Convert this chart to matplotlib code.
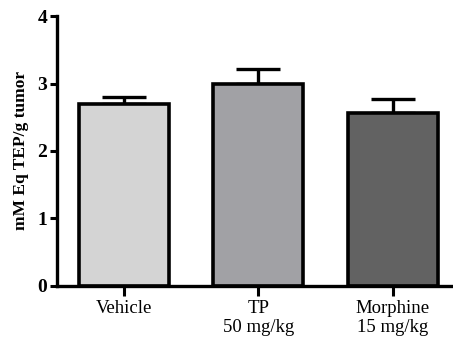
"""
TEP content in tumour tissue by treatment group, bar chart with SEM.
"""

import matplotlib
matplotlib.use("Agg")
import matplotlib.pyplot as plt

# --- data ---
groups = ["Vehicle", "TP\n50 mg/kg", "Morphine\n15 mg/kg"]
means = [2.70, 3.00, 2.56]
sem = [0.10, 0.22, 0.21]
y_ticks = [0, 1, 2, 3, 4]

# --- colours ---
FILLS = ["#d4d4d4", "#a1a1a5", "#626262"]
BLACK = "#000000"

plt.rcParams["font.family"] = ["Liberation Serif", "DejaVu Serif"]

fig = plt.figure(figsize=(4.53, 3.42), dpi=100)
ax = fig.add_axes([0.126, 0.164, 0.874, 0.789])

x = range(len(groups))
ax.bar(x, means, width=0.67, color=FILLS, edgecolor=BLACK, linewidth=2.6,
       zorder=2)
ax.errorbar(x, means, yerr=[[0] * len(sem), sem], fmt="none", ecolor=BLACK,
            elinewidth=2.4, capsize=16, capthick=2.4, zorder=1)

ax.set_xlim(-0.498, 2.45)
ax.set_ylim(0, 4)
ax.set_yticks(y_ticks)
ax.set_yticklabels([str(t) for t in y_ticks], fontweight="bold", fontsize=14)
ax.set_xticks(list(x))
ax.set_xticklabels(groups, fontsize=13.5, linespacing=1.15)
ax.set_ylabel("mM Eq TEP/g tumor", fontweight="bold", fontsize=12.5, labelpad=6)

for side in ["top", "right"]:
    ax.spines[side].set_visible(False)
for side in ["left", "bottom"]:
    ax.spines[side].set_linewidth(2.4)
ax.tick_params(axis="y", direction="out", length=5, width=2.2, pad=2)
ax.tick_params(axis="x", direction="out", length=7, width=2.2, pad=3)

fig.savefig("out.png", dpi=100, facecolor="white")
